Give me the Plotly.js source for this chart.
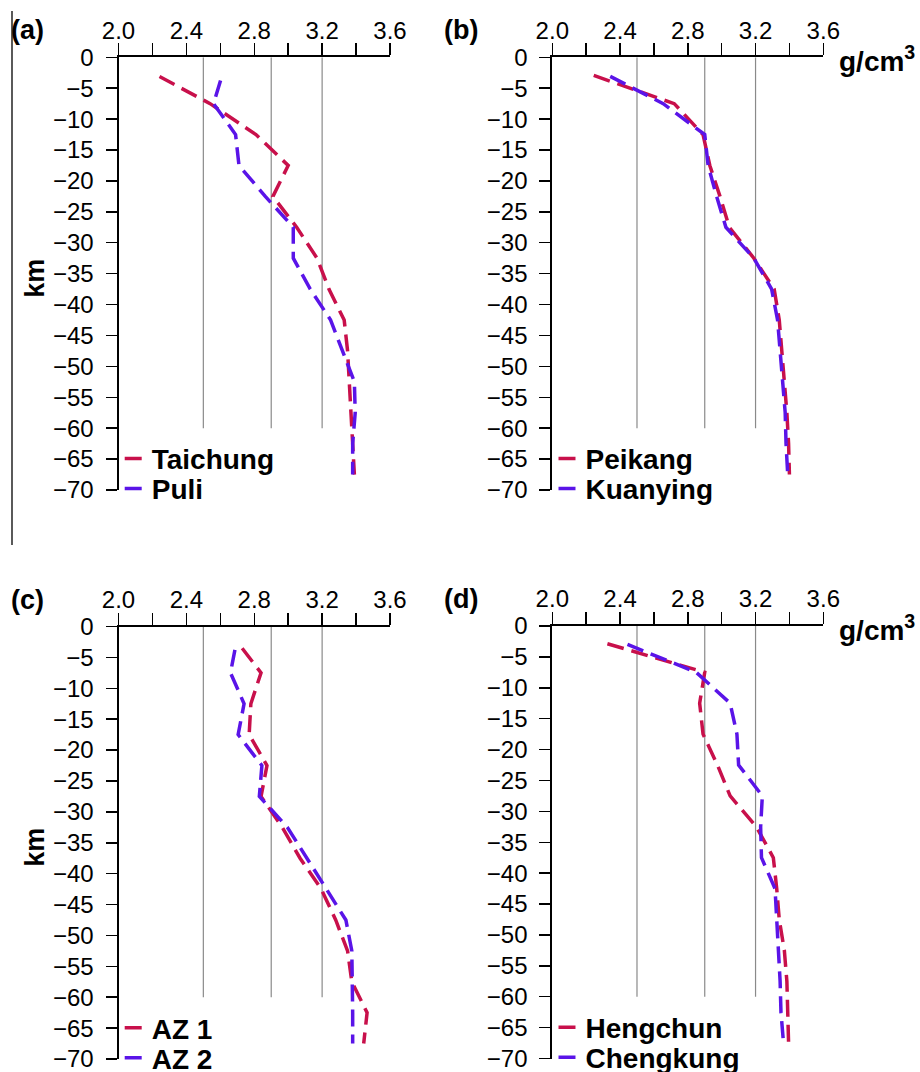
<!DOCTYPE html>
<html><head><meta charset="utf-8">
<script src="https://cdn.plot.ly/plotly-3.0.1.min.js"></script>
<style>html,body{margin:0;padding:0;background:#fff}#chart{width:920px;height:1072px}</style>
</head><body><div id="chart"></div>
<script>
// ---- data ----
const depthKm = [-2.5, -7.5, -12.5, -17.5, -22.5, -27.5, -32.5, -37.5, -42.5, -47.5, -52.5, -57.5, -62.5, -67.5];
const taichung  = [2.20, 2.54, 2.81, 3.00, 2.91, 3.05, 3.17, 3.24, 3.33, 3.35, 3.36, 3.37, 3.38, 3.39];
const puli      = [2.615, 2.56, 2.69, 2.71, 2.865, 3.03, 3.03, 3.13, 3.25, 3.32, 3.39, 3.395, 3.38, 3.38];
const peikang   = [2.20, 2.72, 2.89, 2.93, 2.99, 3.045, 3.19, 3.31, 3.34, 3.355, 3.375, 3.385, 3.395, 3.40];
const kuanying  = [2.30, 2.655, 2.90, 2.92, 2.97, 3.025, 3.19, 3.295, 3.33, 3.345, 3.365, 3.375, 3.38, 3.39];
const az1       = [2.70, 2.84, 2.78, 2.77, 2.875, 2.84, 2.965, 3.07, 3.195, 3.28, 3.35, 3.375, 3.465, 3.445];
const az2       = [2.695, 2.66, 2.74, 2.705, 2.845, 2.83, 2.995, 3.11, 3.22, 3.34, 3.375, 3.38, 3.38, 3.38];
const hengchun  = [2.28, 2.90, 2.87, 2.89, 2.975, 3.05, 3.205, 3.305, 3.325, 3.34, 3.37, 3.385, 3.39, 3.395];
const chengkung = [2.40, 2.85, 3.05, 3.09, 3.10, 3.24, 3.23, 3.235, 3.315, 3.325, 3.34, 3.345, 3.35, 3.365];

const panelLabels = ['(a)', '(b)', '(c)', '(d)'];
const seriesNames = [['Taichung', 'Puli'], ['Peikang', 'Kuanying'], ['AZ 1', 'AZ 2'], ['Hengchun', 'Chengkung']];
const seriesValues = [[taichung, puli], [peikang, kuanying], [az1, az2], [hengchun, chengkung]];
const yTickVals = [0, -5, -10, -15, -20, -25, -30, -35, -40, -45, -50, -55, -60, -65, -70];
const gridVals = [2.5, 2.9, 3.2];
const gridBottom = -60;
const yAxisTitle = 'km';
const unitText = 'g/cm<sup>3</sup>';

// ---- layout ----
const W = 920, H = 1072;
const fx = p => p / W, fy = p => 1 - p / H;
const colors = ['#C8104B', '#5A14E8'];
const dashPat = '0px,8px,17px,0px';
const FONT = 'Liberation Sans, Arial, Helvetica, sans-serif';
const TICK_SIZE = 24;

const panels = [
  {x0: 118.5, x1: 390,   y0: 57.3,  y1: 490},
  {x0: 552.3, x1: 823.3, y0: 57.3,  y1: 490},
  {x0: 118.5, x1: 390,   y0: 626.5, y1: 1059},
  {x0: 552.3, x1: 823.3, y0: 626.0, y1: 1058.5}
];
const legendRows = [402.5, 432.5];

const data = [];
const layout = {
  width: W, height: H,
  margin: {l: 0, r: 0, t: 0, b: 0, autoexpand: false},
  paper_bgcolor: '#fff', plot_bgcolor: 'rgba(0,0,0,0)',
  font: {family: FONT, size: TICK_SIZE, color: '#000'},
  showlegend: true,
  shapes: [], annotations: []
};

panels.forEach((p, i) => {
  const n = i + 1;
  const xa = 'xaxis' + (n === 1 ? '' : n), ya = 'yaxis' + (n === 1 ? '' : n);
  const xr = 'x' + (n === 1 ? '' : n), yr = 'y' + (n === 1 ? '' : n);
  layout[xa] = {
    domain: [fx(p.x0), fx(p.x1)], anchor: yr, side: 'top', range: [2.0, 3.6],
    tickmode: 'linear', tick0: 2.0, dtick: 0.4, tickformat: '.1f',
    ticks: 'outside', ticklen: 12, tickwidth: 1.5, tickcolor: '#000',
    minor: {tickmode: 'linear', tick0: 2.0, dtick: 0.2, ticks: 'outside', ticklen: 12, tickwidth: 1.5, tickcolor: '#000', showgrid: false},
    showline: true, linewidth: 2, linecolor: '#000', showgrid: false,
    zeroline: false, fixedrange: true, ticklabelstandoff: -5, ticklabeloverflow: 'allow',
    tickfont: {family: FONT, size: TICK_SIZE, color: '#000'}
  };
  layout[ya] = {
    domain: [fy(p.y1), fy(p.y0)], anchor: xr, range: [-70, 0],
    tickvals: yTickVals, ticks: 'outside', ticklen: 11, tickwidth: 1.5, tickcolor: '#000',
    showline: true, linewidth: 2, linecolor: '#000', showgrid: false, zeroline: false,
    fixedrange: true, ticklabelstandoff: 7, ticklabeloverflow: 'allow',
    tickfont: {family: FONT, size: TICK_SIZE, color: '#000'}
  };
  gridVals.forEach(g => layout.shapes.push({
    type: 'line', xref: xr, yref: yr, x0: g, x1: g, y0: gridBottom, y1: 0,
    line: {color: '#8a8a8a', width: 1.2}, layer: 'below'
  }));
  seriesValues[i].forEach((vals, k) => {
    const idx = i * 2 + k;
    const lg = 'legend' + (idx === 0 ? '' : idx + 1);
    data.push({
      type: 'scatter', mode: 'lines', x: vals, y: depthKm, xaxis: xr, yaxis: yr,
      name: seriesNames[i][k], legend: lg,
      line: {color: colors[k], width: 3.5, dash: dashPat}
    });
    layout[lg] = {
      x: fx(p.x0 - 6.8), y: fy(p.y0 + legendRows[k] - 26), xanchor: 'left', yanchor: 'top',
      bgcolor: 'rgba(0,0,0,0)', borderwidth: 0,
      font: {family: FONT, size: 28, color: '#000', weight: 'bold'},
      itemwidth: 30
    };
  });
  // panel label
  layout.annotations.push({
    xref: 'paper', yref: 'paper', x: fx(i % 2 === 0 ? 9 : 442), y: fy(p.y0 - 27),
    xanchor: 'left', yanchor: 'middle', showarrow: false, text: panelLabels[i],
    font: {family: FONT, size: 27, color: '#000', weight: 'bold'}
  });
  if (i % 2 === 0) {
    layout.annotations.push({
      xref: 'paper', yref: 'paper', x: fx(35), y: fy((p.y0 + p.y1) / 2 + 5),
      xanchor: 'center', yanchor: 'middle', showarrow: false, text: yAxisTitle, textangle: -90,
      font: {family: FONT, size: 27, color: '#000', weight: 'bold'}
    });
  } else {
    layout.annotations.push({
      xref: 'paper', yref: 'paper', x: fx(837), y: fy(p.y0 + 2),
      xanchor: 'left', yanchor: 'middle', showarrow: false, text: unitText,
      font: {family: FONT, size: 28, color: '#000', weight: 'bold'}
    });
  }
});

// thin frame line at left edge
layout.shapes.push({type: 'line', xref: 'paper', yref: 'paper', x0: fx(12), x1: fx(12), y0: fy(545), y1: fy(11),
  line: {color: '#000', width: 1.3}});

Plotly.newPlot('chart', data, layout, {staticPlot: true, displayModeBar: false});
</script></body></html>
